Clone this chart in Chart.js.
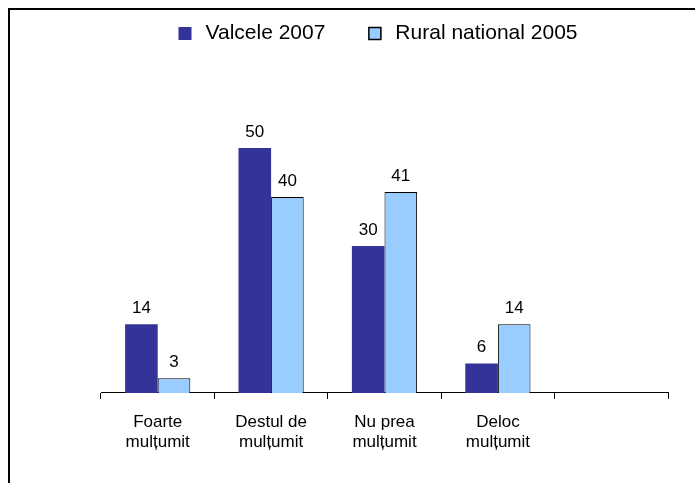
<!DOCTYPE html>
<html>
<head>
<meta charset="utf-8">
<script src="https://cdn.jsdelivr.net/npm/chart.js@4/dist/chart.umd.min.js"></script>
<style>
    html, body { margin: 0; padding: 0; background: #fff; }
    #wrap { position: relative; width: 695px; height: 483px; overflow: hidden; }
    #frame { position: absolute; left: 8px; top: 8px; width: 800px; height: 600px;
             border-top: 2px solid #000; border-left: 2px solid #000; }
    canvas { position: absolute; left: 0; top: 0; }
</style>
</head>
<body>
<div id="wrap">
    <div id="frame"></div>
    <canvas id="satisfactionChart" width="695" height="483"></canvas>
</div>
<script>
var categories = [['Foarte', 'mulțumit'], ['Destul de', 'mulțumit'], ['Nu prea', 'mulțumit'], ['Deloc', 'mulțumit'], ''];
var valcele2007 = [14, 50, 30, 6, null];
var rural2005 = [3, 40, 41, 14, null];

var FONT = '"Liberation Sans", Arial, sans-serif';

window.addEventListener('load', drawChart);

function drawChart() {
    var ctx = document.getElementById('satisfactionChart');

    // value labels above each bar
    var barLabels = {
        id: 'barLabels',
        afterDatasetsDraw: function (chart) {
            var c = chart.ctx;
            c.save();
            c.font = '17px ' + FONT;
            c.fillStyle = '#000';
            c.textAlign = 'center';
            c.textBaseline = 'alphabetic';
            chart.data.datasets.forEach(function (ds, i) {
                chart.getDatasetMeta(i).data.forEach(function (bar, j) {
                    if (ds.data[j] == null) return;
                    c.fillText(ds.data[j], bar.x, bar.y - 11);
                });
            });
            c.restore();
        }
    };

    // legend drawn by hand so it can sit close to the top edge
    var topLegend = {
        id: 'topLegend',
        afterDraw: function (chart) {
            var c = chart.ctx;
            var sets = chart.data.datasets;
            c.save();
            c.font = '21px ' + FONT;
            c.textBaseline = 'alphabetic';
            c.textAlign = 'left';
            var box = 13, gapText = 14, gapItem = 43;
            var total = 0;
            sets.forEach(function (ds, i) {
                total += box + gapText + c.measureText(ds.label).width;
                if (i < sets.length - 1) total += gapItem;
            });
            var x = 378 - total / 2;
            var baseline = 39;
            sets.forEach(function (ds) {
                c.fillStyle = ds.backgroundColor;
                c.fillRect(x, 27, box, box);
                if (ds.borderWidth) {
                    c.strokeStyle = ds.borderColor;
                    c.lineWidth = 1.5;
                    c.strokeRect(x + 0.5, 27.5, box - 1, box - 1);
                }
                x += box + gapText;
                c.fillStyle = '#000';
                c.fillText(ds.label, x, baseline);
                x += c.measureText(ds.label).width + gapItem;
            });
            c.restore();
        }
    };

    new Chart(ctx, {
        type: 'bar',
        data: {
            labels: categories,
            datasets: [{
                label: 'Valcele 2007',
                data: valcele2007,
                backgroundColor: '#333399',
                borderWidth: 0
            }, {
                label: 'Rural national 2005',
                data: rural2005,
                backgroundColor: '#99CCFF',
                borderColor: '#000',
                borderWidth: 1
            }]
        },
        options: {
            responsive: false,
            animation: false,
            layout: { padding: { left: 101, right: 27, top: 99, bottom: 18 } },
            datasets: { bar: { categoryPercentage: 0.575, barPercentage: 1 } },
            plugins: {
                legend: { display: false },
                tooltip: { enabled: false }
            },
            scales: {
                x: {
                    grid: { display: true, drawOnChartArea: false, offset: true, color: '#000', tickLength: 6 },
                    border: { display: true, color: '#000', width: 1 },
                    ticks: {
                        color: '#000',
                        maxRotation: 0,
                        padding: 13,
                        font: { family: FONT, size: 17, lineHeight: 1.18 }
                    }
                },
                y: {
                    display: false,
                    min: 0,
                    max: 60
                }
            }
        },
        plugins: [barLabels, topLegend]
    });
}
</script>
</body>
</html>
